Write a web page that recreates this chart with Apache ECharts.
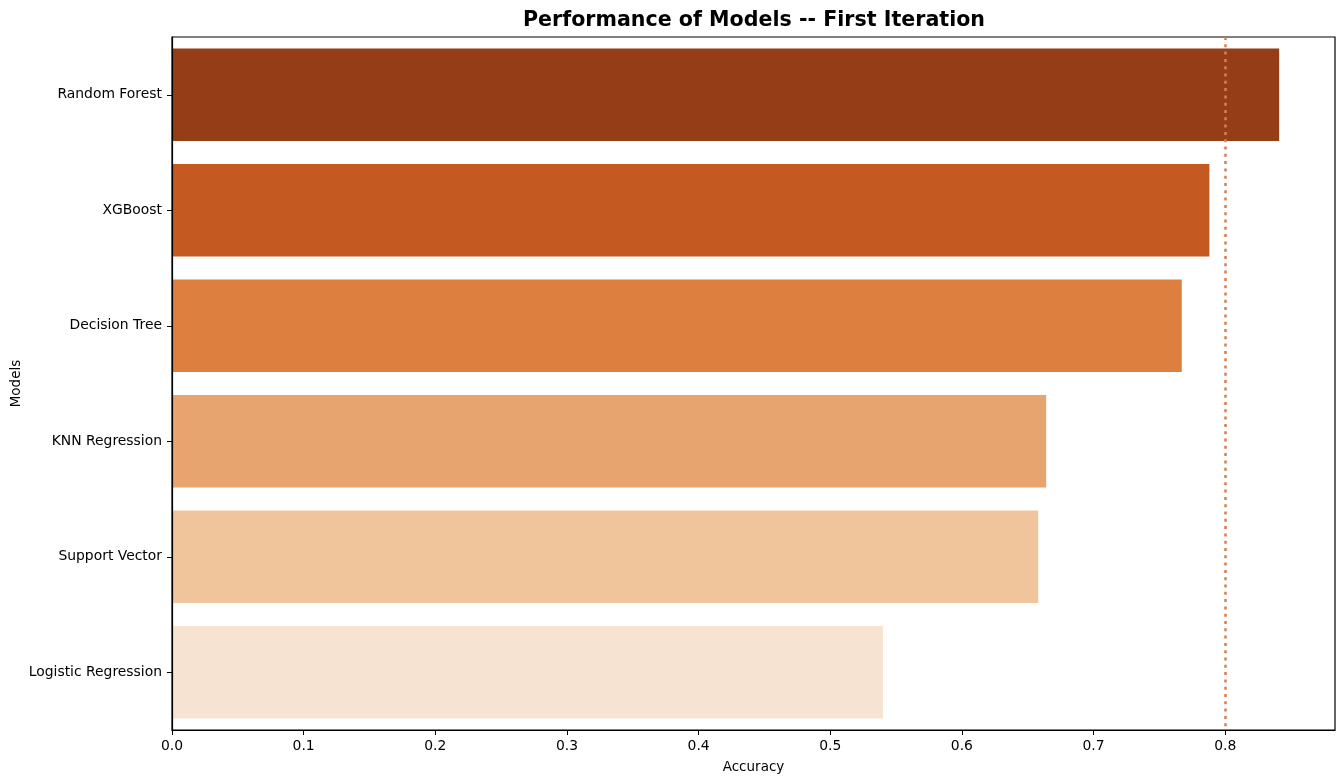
<!DOCTYPE html>
<html><head><meta charset="utf-8">
<script src="https://cdn.jsdelivr.net/npm/echarts@6/dist/echarts.min.js"></script>
<style>html,body{margin:0;padding:0;background:#fff}#c{width:1344px;height:783px}</style>
</head><body><div id="c"></div>
<script>
const models = ["Random Forest","XGBoost","Decision Tree","KNN Regression","Support Vector","Logistic Regression"];
const accuracy = [0.841, 0.788, 0.767, 0.664, 0.658, 0.540];
const barColors = ["#953D17","#C45A21","#DD7F3F","#E8A46E","#F0C59C","#F6E3D1"];
const threshold = 0.8;
const xTicks = [0,0.1,0.2,0.3,0.4,0.5,0.6,0.7,0.8];
const FONT = "DejaVu Sans";
const chart = echarts.init(document.getElementById('c'));
chart.setOption({
  animation:false,
  textStyle:{fontFamily:FONT},
  title:{text:"Performance of Models -- First Iteration",left:749,top:5,textAlign:'center',
    textStyle:{fontFamily:FONT,fontWeight:'bold',fontSize:20.6,color:'#000'}},
  grid:{left:172,right:9,top:37,bottom:53,containLabel:false,outerBoundsMode:'none',
    show:true,borderColor:'#000',borderWidth:1.2,backgroundColor:'transparent'},
  xAxis:{type:'value',min:0,max:0.8834,interval:0.1,z:5,
    name:'Accuracy',nameLocation:'middle',nameGap:30,nameTextStyle:{fontSize:13.5,color:'#000',fontFamily:FONT},
    axisLine:{show:true,lineStyle:{color:'#000',width:1.2}},
    axisTick:{show:true,length:5,lineStyle:{color:'#000'}},
    axisLabel:{fontSize:13.9,color:'#000',margin:9,showMaxLabel:false,fontFamily:FONT,
      formatter:v=>xTicks.some(t=>Math.abs(t-v)<1e-9)?v.toFixed(1):''},
    splitLine:{show:false}},
  yAxis:{type:'category',data:models,inverse:true,z:5,
    name:'Models',nameLocation:'middle',nameGap:149,nameRotate:90,nameMoveOverlap:false,
    nameTextStyle:{fontSize:13.5,color:'#000',fontFamily:FONT},
    axisLine:{show:true,lineStyle:{color:'#000',width:1.2}},
    axisTick:{show:true,alignWithLabel:true,length:5,lineStyle:{color:'#000'}},
    axisLabel:{fontSize:13.9,color:'#000',margin:10,fontFamily:FONT}},
  series:[{type:'bar',barCategoryGap:'20%',
    data:accuracy.map((v,i)=>({value:v,itemStyle:{color:barColors[i]}})),
    markLine:{symbol:'none',silent:true,label:{show:false},
      lineStyle:{color:'#D6804F',type:[3,4.3],width:2.5},
      data:[{xAxis:threshold}]}}]
});
</script></body></html>
